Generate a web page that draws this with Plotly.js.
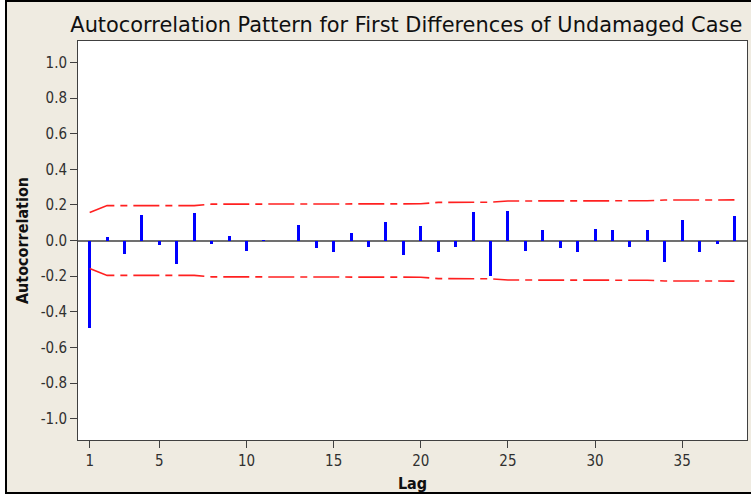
<!DOCTYPE html>
<html>
<head>
<meta charset="utf-8">
<script src="https://cdn.plot.ly/plotly-3.0.1.min.js"></script>
<style>
  html, body { margin: 0; padding: 0; background: #ffffff; }
  #frame { position: absolute; left: 5px; top: 0px; width: 750px; height: 494px;
           box-sizing: border-box; border-top: 2px solid #000; border-left: 2px solid #000;
           border-bottom: 2px solid #000; background: #EFEBE1; }
  #chart { position: absolute; left: 0; top: 0; width: 751px; height: 495px; }
</style>
</head>
<body>
<div id="frame"></div>
<div id="chart"></div>
<script>
// Lags
const lags = [1,2,3,4,5,6,7,8,9,10,11,12,13,14,15,16,17,18,19,20,21,22,23,24,25,26,27,28,29,30,31,32,33,34,35,36,37,38];
// Autocorrelation values
const acf = [-0.491, 0.019, -0.075, 0.144, -0.028, -0.131, 0.154, -0.020, 0.025, -0.058,
             0.004, -0.003, 0.088, -0.043, -0.067, 0.041, -0.037, 0.105, -0.082, 0.081,
             -0.067, -0.037, 0.161, -0.202, 0.168, -0.060, 0.058, -0.043, -0.067, 0.064,
             0.058, -0.035, 0.058, -0.123, 0.114, -0.067, -0.020, 0.137];
// Upper confidence limits
const upperLimit = [0.157, 0.196, 0.196, 0.196, 0.196, 0.196, 0.196, 0.204, 0.204, 0.204,
                    0.204, 0.204, 0.204, 0.204, 0.204, 0.204, 0.204, 0.204, 0.205, 0.206,
                    0.214, 0.215, 0.215, 0.215, 0.222, 0.222, 0.222, 0.222, 0.222, 0.222,
                    0.222, 0.222, 0.223, 0.227, 0.228, 0.228, 0.228, 0.228];
const lowerLimit = upperLimit.map(v => -v);
// Tick labels
const xTicks = [1, 5, 10, 15, 20, 25, 30, 35];
const yTicks = [-1.0, -0.8, -0.6, -0.4, -0.2, 0.0, 0.2, 0.4, 0.6, 0.8, 1.0];

const font = "Tahoma, 'DejaVu Sans Condensed', 'DejaVu Sans', sans-serif";
const titleFont = "Tahoma, 'DejaVu Sans', sans-serif";
const limitLine = { color: '#FF2020', width: 1.6, dash: '26px,6px,7px,6px' };

const traces = [
  { type: 'bar', x: lags, y: acf, width: 0.17, marker: { color: '#0000FF', line: { width: 0 } },
    hoverinfo: 'x+y' },
  { type: 'scatter', mode: 'lines', x: lags, y: upperLimit, line: limitLine, hoverinfo: 'skip' },
  { type: 'scatter', mode: 'lines', x: lags, y: lowerLimit, line: limitLine, hoverinfo: 'skip' }
];

const layout = {
  width: 751, height: 495,
  margin: { l: 78, r: 4, t: 41, b: 55, pad: 0 },
  paper_bgcolor: 'rgba(0,0,0,0)',
  plot_bgcolor: '#FFFFFF',
  showlegend: false,
  bargap: 0,
  font: { family: font, color: '#303030', size: 14 },
  title: { text: 'Autocorrelation Pattern for First Differences of Undamaged Case',
           font: { family: titleFont, size: 20.9, color: '#101010' },
           x: 0.541, xanchor: 'center', y: 0.951, yanchor: 'middle' },
  xaxis: {
    range: [0.33, 38.72], tickmode: 'array', tickvals: xTicks, ticktext: xTicks.map(String),
    ticks: 'outside', ticklen: 7, tickwidth: 1, tickcolor: '#404040',
    showline: true, linecolor: '#404040', linewidth: 1, mirror: true,
    showgrid: false, zeroline: false, automargin: false,
    tickfont: { family: font, size: 15, color: '#303030' },
    title: { text: '<b>Lag</b>', font: { family: font, size: 16, color: '#101010' }, standoff: 8 }
  },
  yaxis: {
    range: [-1.12, 1.12], tickmode: 'array', tickvals: yTicks, ticktext: yTicks.map(v => v.toFixed(1)),
    ticks: 'outside', ticklen: 7, tickwidth: 1, tickcolor: '#404040',
    showline: true, linecolor: '#404040', linewidth: 1, mirror: true,
    showgrid: false, zeroline: true, zerolinecolor: '#707070', zerolinewidth: 2,
    automargin: false,
    tickfont: { family: font, size: 15, color: '#303030' },
    title: { text: '<b>Autocorrelation</b>', font: { family: font, size: 16, color: '#101010' }, standoff: 8 }
  }
};

Plotly.newPlot('chart', traces, layout, { displayModeBar: false, staticPlot: true });
</script>
</body>
</html>
